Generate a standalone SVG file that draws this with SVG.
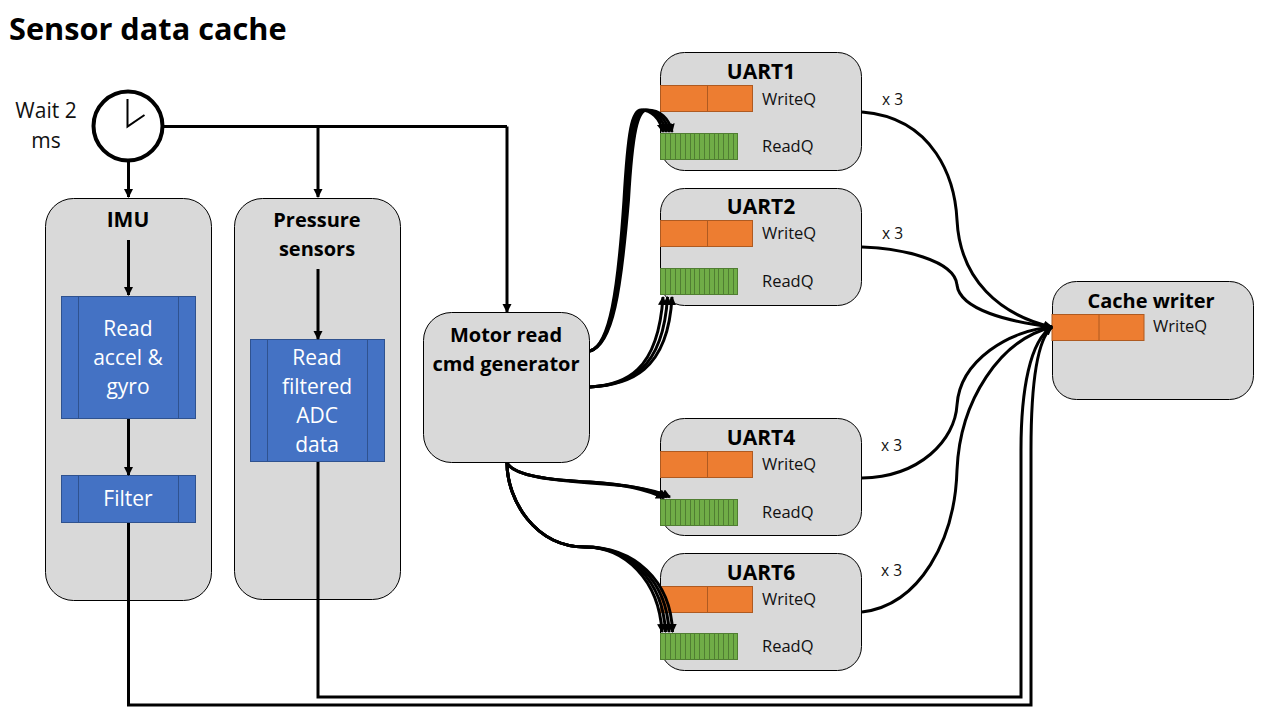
<svg xmlns="http://www.w3.org/2000/svg" xmlns:xlink="http://www.w3.org/1999/xlink" width="1280" height="720" viewBox="0 0 1280 720">
<style>
text{font-family:"Open Sans","Noto Sans","Liberation Sans",sans-serif;fill:#000}
.t{font-weight:700;font-size:20px;text-anchor:middle}
.u{font-weight:700;font-size:21px;text-anchor:middle}
.title{font-weight:700;font-size:30.700px}
.q{font-size:16.500px;fill:#111}
.x{font-size:15.500px;fill:#111}
.l{font-size:21px;text-anchor:middle;fill:#111}
.w{font-size:21px;text-anchor:middle;fill:#fff}
.box{fill:#d9d9d9;stroke:#000;stroke-width:1}
.blue{fill:#4472c4;stroke:#2f528f;stroke-width:1}
.or{fill:#ed7d31;stroke:#ae5a21;stroke-width:1}
.gr{fill:#70ad47;stroke:#507e32;stroke-width:1}
.c{fill:none;stroke:#000;stroke-width:3}
.a{fill:none;stroke:#000;stroke-width:3;marker-end:url(#ah)}
</style>
<defs>
<marker id="ah" markerUnits="userSpaceOnUse" markerWidth="11" markerHeight="11" refX="8" refY="4.500" orient="auto"><path d="M0,0L9,4.500L0,9z" fill="#000"/></marker>
<g id="oq"><rect class="or" x="660.500" y="0" width="92" height="26"/><path class="or" d="M707.500,0V26"/></g>
<g id="gq"><rect class="gr" x="660.500" y="0" width="77" height="26"/><path class="gr" d="M665.500,0V26M670.500,0V26M675.500,0V26M680.500,0V26M685.500,0V26M690.500,0V26M694.500,0V26M699.500,0V26M704.500,0V26M709.500,0V26M714.500,0V26M718.500,0V26M723.500,0V26M728.500,0V26M733.500,0V26"/></g>
</defs>
<text class="title" x="9" y="40">Sensor data cache</text>

<g id="imu">
<rect class="box" x="45.500" y="198.500" width="166" height="402" rx="28"/>
<text class="u" x="128" y="227">IMU</text>
<rect class="blue" x="61.500" y="296.500" width="134" height="122"/><path class="blue" d="M78.500,296.500V418.500M178.500,296.500V418.500"/>
<text class="w" x="128" y="336">Read</text><text class="w" x="128" y="365">accel &amp;</text><text class="w" x="128" y="394">gyro</text>
<rect class="blue" x="61.500" y="475.500" width="134" height="47"/><path class="blue" d="M78.500,475.500V522.500M178.500,475.500V522.500"/>
<text class="w" x="128" y="506">Filter</text>
</g>
<g id="pressure">
<rect class="box" x="234.500" y="198.500" width="166" height="401" rx="28"/>
<text class="t" x="317" y="227">Pressure</text><text class="t" x="317" y="256">sensors</text>
<rect class="blue" x="250.500" y="339.500" width="134" height="122"/><path class="blue" d="M267.500,339.500V461.500M367.500,339.500V461.500"/>
<text class="w" x="317" y="365">Read</text><text class="w" x="317" y="394">filtered</text><text class="w" x="317" y="423">ADC</text><text class="w" x="317" y="452">data</text>
</g>
<g id="motor">
<rect class="box" x="423.500" y="312.500" width="166" height="150" rx="28"/>
<text class="t" x="506" y="342">Motor read</text><text class="t" x="506" y="371">cmd generator</text>
</g>
<g id="clock">
<text class="l" x="46" y="118">Wait 2</text><text class="l" x="46" y="148">ms</text>
<circle cx="128" cy="126" r="34.500" fill="#fff" stroke="#000" stroke-width="4"/>
<path d="M127.500,99V126.500L144.500,115" fill="none" stroke="#000" stroke-width="2"/>
</g>
<g id="uart1">
<rect class="box" x="660.500" y="52.500" width="201" height="118" rx="24"/>
<text class="u" x="761" y="79">UART1</text>
<use xlink:href="#oq" href="#oq" y="85.500"/><use xlink:href="#gq" href="#gq" y="133.500"/>
<text class="q" x="762" y="105">WriteQ</text><text class="q" x="762" y="152">ReadQ</text>
<text class="x" x="882" y="105">x 3</text>
</g>
<g id="uart2">
<rect class="box" x="660.500" y="188.500" width="201" height="117" rx="24"/>
<text class="u" x="761" y="214">UART2</text>
<use xlink:href="#oq" href="#oq" y="220.500"/><use xlink:href="#gq" href="#gq" y="268.500"/>
<text class="q" x="762" y="239">WriteQ</text><text class="q" x="762" y="287">ReadQ</text>
<text class="x" x="882" y="239">x 3</text>
</g>
<g id="uart4">
<rect class="box" x="660.500" y="418.500" width="201" height="117" rx="24"/>
<text class="u" x="761" y="445">UART4</text>
<use xlink:href="#oq" href="#oq" y="451.500"/><use xlink:href="#gq" href="#gq" y="499.500"/>
<text class="q" x="762" y="470">WriteQ</text><text class="q" x="762" y="518">ReadQ</text>
<text class="x" x="881" y="451">x 3</text>
</g>
<g id="uart6">
<rect class="box" x="660.500" y="553.500" width="201" height="117" rx="24"/>
<text class="u" x="761" y="580">UART6</text>
<use xlink:href="#oq" href="#oq" y="586.500"/><use xlink:href="#gq" href="#gq" y="633.500"/>
<text class="q" x="762" y="605">WriteQ</text><text class="q" x="762" y="652">ReadQ</text>
<text class="x" x="881" y="576">x 3</text>
</g>
<g id="cache">
<rect class="box" x="1052.500" y="281.500" width="201" height="118" rx="24"/>
<text class="t" x="1151" y="308">Cache writer</text>
<use xlink:href="#oq" href="#oq" x="391.500" y="314.500"/>
<text class="q" x="1153" y="332">WriteQ</text>
</g>
<g id="connectors">
<path class="c" d="M163,126.500H507"/>
<path class="a" d="M128.500,161V197"/>
<path class="a" d="M318,126.500V197"/>
<path class="a" d="M507,126.500V312"/>
<path class="a" d="M128.500,240V295"/>
<path class="a" d="M128.500,419V475"/>
<path class="a" d="M318,269V339"/>
<path class="a" d="M590,351C610,345 618,290 624,200C628,130 632,110 641,110C651,110 660,118 663,132"/>
<path class="a" d="M590,351C611,345 619,290 625.500,200C629.500,130 634,110 643,110C654,110 663,118 666,132"/>
<path class="a" d="M590,351C612,345 620,290 627,200C631,130 636,110 645,110C657,110 666,118 669,132"/>
<path class="a" d="M590,351C613,345 621,290 628.500,200C632.500,130 638,110 647,110C660,110 669,118 672,132"/>
<path class="a" d="M590,387C625,385 658,372 663,297"/>
<path class="a" d="M590,387C627,385 663,372 667.500,297"/>
<path class="a" d="M590,387C629,385 668,372 672,297"/>
<path class="a" d="M507,463C515,476 550,480 590,482C620,484 648,490 664,498"/>
<path class="a" d="M507,463C515,476 550,480 590,482C622,484 650,489 667,497"/>
<path class="a" d="M507,463C515,476 550,480 590,483C624,485 652,488 670,497"/>
<path class="a" d="M507,463C507,500 535,547 585,547C625,547 659,580 662,632"/>
<path class="a" d="M507,463C507,500 535,547 585,547C628,547 663,580 665.500,632"/>
<path class="a" d="M507,463C507,500 535,547 585,547C631,547 667,580 669,632"/>
<path class="a" d="M507,463C507,500 535,547 585,547C634,547 671,580 672.500,632"/>
<path class="a" d="M862,112C935,118 955,180 957,220C960,280 1000,315 1052,327"/>
<path class="a" d="M862,247C900,248 955,260 957,285C960,310 1010,322 1052,327"/>
<path class="a" d="M862,478C920,477 955,440 957,405C960,360 1010,330 1052,327"/>
<path class="a" d="M862,612C920,605 955,540 957,470C960,400 1000,340 1052,327"/>
<path class="a" d="M318,462V697H1021V450C1021,390 1030,340 1052,327"/>
<path class="a" d="M128.500,523V705H1031V450C1031,390 1036,340 1052,327"/>
</g>
</svg>
